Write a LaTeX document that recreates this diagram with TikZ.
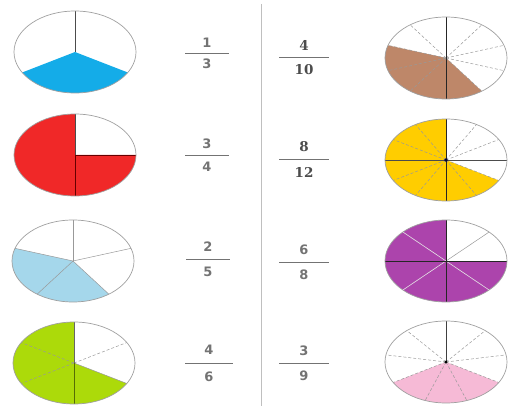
\documentclass[tikz,border=0pt]{standalone}
\usepackage{fontspec}
\setmainfont{DejaVu Sans}
\newfontfamily\boldserif{DejaVu Serif}
\usepackage{tikz}
\usetikzlibrary{calc}
\definecolor{pieblue}     {RGB}{20,172,232}
\definecolor{piered}      {RGB}{240,40,40}
\definecolor{pielightblue}{RGB}{165,215,235}
\definecolor{piegreen}    {RGB}{172,218,10}
\definecolor{piebrown}    {RGB}{190,135,105}
\definecolor{pieyellow}   {RGB}{255,205,0}
\definecolor{piepurple}   {RGB}{172,68,172}
\definecolor{piepink}     {RGB}{246,186,214}

\begin{document}
\begin{tikzpicture}[
  x=1pt,y=1pt,
  rim/.style={draw=gray!75,line width=0.7pt},
  spoke/.style={draw=gray!80,line width=0.5pt,densely dashed},
  thinspoke/.style={draw=gray!80,line width=0.5pt},
  paler/.style={draw=white!80!gray,line width=0.6pt},
  mainline/.style={draw=black!85,line width=0.9pt},
  num/.style={font=\fontsize{13}{13}\selectfont\bfseries,text=black!55,inner sep=0pt},
  bnum/.style={num,font=\fontsize{13.5}{13.5}\selectfont\boldserif\bfseries,text=black!70},
  fracbar/.style={draw=black!55,line width=1pt},
  divider/.style={draw=gray!50,line width=0.9pt},
]
\useasboundingbox (0,0) rectangle (532,-406);

%% ── pie centres ─────────────────────────────────────────────────────────
\coordinate (P1) at (75,-52);
\coordinate (P2) at (75,-155);
\coordinate (P3) at (73,-261);
\coordinate (P4) at (74,-363);
\coordinate (P5) at (446,-58);
\coordinate (P6) at (446,-160);
\coordinate (P7) at (446,-261);
\coordinate (P8) at (446,-362);

%% ── 1/3 ─────────────────────────────────────────────────────────────────
\fill[pieblue] (P1) -- ($(P1)+(210:61 and 41)$)
  arc[start angle=210,end angle=330,x radius=61pt,y radius=41pt] -- cycle;
\draw[mainline,draw=black!70,line width=0.7pt] (P1) -- ++(90:61 and 41);
\draw[rim] (P1) ellipse[x radius=61pt,y radius=41pt];

%% ── 3/4 ─────────────────────────────────────────────────────────────────
\fill[piered] (P2) -- ($(P2)+(90:61 and 41)$)
  arc[start angle=90,end angle=360,x radius=61pt,y radius=41pt] -- cycle;
\draw[mainline,draw=black!70] (P2) -- ++(90:61 and 41);
\draw[mainline,draw=black!60!red] (P2) -- ++(270:61 and 41);
\draw[mainline,draw=black!60!red] (P2) -- ++(0:61 and 41);
\draw[rim] (P2) ellipse[x radius=61pt,y radius=41pt];

%% ── 2/5 ─────────────────────────────────────────────────────────────────
\fill[pielightblue] (P3) -- ($(P3)+(162:61 and 41)$)
  arc[start angle=162,end angle=306,x radius=61pt,y radius=41pt] -- cycle;
\foreach \a in {90,18,-54,-126,162}
  \draw[thinspoke] (P3) -- ++(\a:61 and 41);
\draw[rim] (P3) ellipse[x radius=61pt,y radius=41pt];

%% ── 4/6 ─────────────────────────────────────────────────────────────────
\fill[piegreen] (P4) -- ($(P4)+(90:61 and 41)$)
  arc[start angle=90,end angle=330,x radius=61pt,y radius=41pt] -- cycle;
\foreach \a in {30,150,210}
  \draw[spoke] (P4) -- ++(\a:61 and 41);
\draw[thinspoke] (P4) -- ++(-30:61 and 41);
\draw[mainline,draw=black!60] (P4) -- ++(90:61 and 41);
\draw[mainline,draw=black!50!piegreen] (P4) -- ++(270:61 and 41);
\draw[rim] (P4) ellipse[x radius=61pt,y radius=41pt];

%% ── 4/10 ────────────────────────────────────────────────────────────────
\fill[piebrown] (P5) -- ($(P5)+(162:61 and 41)$)
  arc[start angle=162,end angle=306,x radius=61pt,y radius=41pt] -- cycle;
\foreach \a in {54,18,-18,-54,-126,-162,162,126}
  \draw[spoke] (P5) -- ++(\a:61 and 41);
\draw[mainline] ($(P5)+(90:61 and 41)$) -- ($(P5)+(270:61 and 41)$);
\draw[rim] (P5) ellipse[x radius=61pt,y radius=41pt];

%% ── 8/12 ────────────────────────────────────────────────────────────────
\fill[pieyellow] (P6) -- ($(P6)+(90:61 and 41)$)
  arc[start angle=90,end angle=330,x radius=61pt,y radius=41pt] -- cycle;
\foreach \a in {60,30,-30,-60,-120,-150,150,120}
  \draw[spoke] (P6) -- ++(\a:61 and 41);
\draw[mainline] ($(P6)+(90:61 and 41)$) -- ($(P6)+(270:61 and 41)$);
\draw[mainline,draw=black!70] ($(P6)+(180:61 and 41)$) -- ($(P6)+(0:61 and 41)$);
\fill[black!80!blue] (P6) circle[radius=1.8pt];
\draw[rim] (P6) ellipse[x radius=61pt,y radius=41pt];

%% ── 6/8 ─────────────────────────────────────────────────────────────────
\fill[piepurple] (P7) -- ($(P7)+(90:61 and 41)$)
  arc[start angle=90,end angle=360,x radius=61pt,y radius=41pt] -- cycle;
\draw[thinspoke] (P7) -- ++(45:61 and 41);
\foreach \a in {135,225,315}
  \draw[paler] (P7) -- ++(\a:61 and 41);
\draw[mainline] ($(P7)+(90:61 and 41)$) -- ($(P7)+(270:61 and 41)$);
\draw[mainline] ($(P7)+(180:61 and 41)$) -- ($(P7)+(0:61 and 41)$);
\draw[rim] (P7) ellipse[x radius=61pt,y radius=41pt];

%% ── 3/9 ─────────────────────────────────────────────────────────────────
\fill[piepink] (P8) -- ($(P8)+(210:61 and 41)$)
  arc[start angle=210,end angle=330,x radius=61pt,y radius=41pt] -- cycle;
\foreach \a in {50,10,-30,-70,-110,-150,170,130}
  \draw[spoke] (P8) -- ++(\a:61 and 41);
\draw[mainline,draw=black!75,line width=0.7pt] (P8) -- ++(90:61 and 41);
\fill[black] (P8) circle[radius=1.6pt];
\draw[rim] (P8) ellipse[x radius=61pt,y radius=41pt];

%% ── fractions, left column ──────────────────────────────────────────────
\node[num] (n1) at (207,-43)  {1};
\node[num] (d1) at (207,-64)  {3};
\node[num] (n2) at (207,-144) {3};
\node[num] (d2) at (207,-167) {4};
\node[num] (n3) at (208,-247) {2};
\node[num] (d3) at (208,-272) {5};
\node[num] (n4) at (209,-350) {4};
\node[num] (d4) at (209,-377) {6};

%% ── fractions, right column ─────────────────────────────────────────────
\node[bnum] (n5) at (304,-45)  {4};
\node[bnum] (d5) at (304,-70)  {10};
\node[bnum] (n6) at (304,-147) {8};
\node[bnum] (d6) at (304,-172) {12};
\node[num]  (n7) at (304,-250) {6};
\node[num]  (d7) at (304,-275) {8};
\node[num]  (n8) at (304,-351) {3};
\node[num]  (d8) at (304,-376) {9};

%% ── fraction bars ───────────────────────────────────────────────────────
\draw[fracbar] ($(n1)!.5!(d1)+(-22,0)$) -- ++(44,0);
\draw[fracbar] ($(n2)!.5!(d2)+(-22,0)$) -- ++(44,0);
\draw[fracbar] ($(n3)!.5!(d3)+(-22,0)$) -- ++(44,0);
\draw[fracbar] ($(n4)!.5!(d4)+(-24,0)$) -- ++(48,0);
\draw[fracbar] ($(n5)!.5!(d5)+(-25,0)$) -- ++(50,0);
\draw[fracbar] ($(n6)!.5!(d6)+(-25,0)$) -- ++(50,0);
\draw[fracbar] ($(n7)!.5!(d7)+(-25,0)$) -- ++(50,0);
\draw[fracbar] ($(n8)!.5!(d8)+(-25,0)$) -- ++(50,0);

%% ── column divider ──────────────────────────────────────────────────────
\coordinate (divtop) at (261,-4);
\coordinate (divbot) at (261,-406);
\draw[divider] (divtop) -- (divbot);

\end{tikzpicture}
\end{document}
